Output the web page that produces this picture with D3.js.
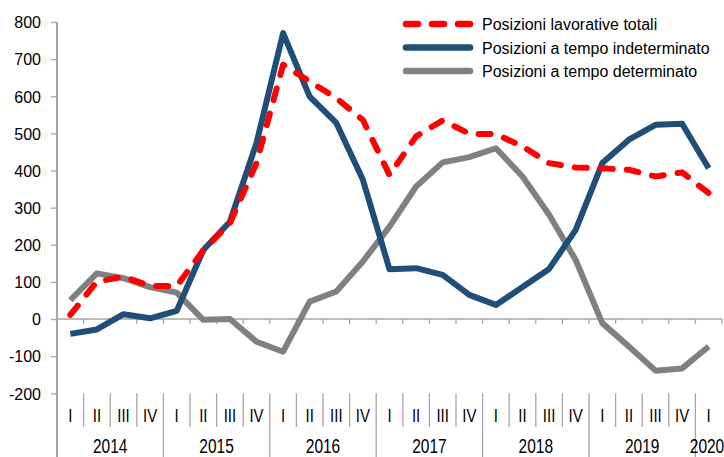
<!DOCTYPE html>
<html>
<head>
<meta charset="utf-8">
<script src="https://cdn.jsdelivr.net/npm/d3@7/dist/d3.min.js"></script>
<style>
  body { margin: 0; background: #fff; }
  svg { display: block; font-family: 'Liberation Sans', Arial, sans-serif; }
</style>
</head>
<body>
<div id="chart"></div>
<script>
// Quarters 2014 I .. 2020 I
const years = ['2014', '2015', '2016', '2017', '2018', '2019', '2020'];
const quarters = ['I', 'II', 'III', 'IV'];
const totali = [11, 101, 114, 89, 89, 185, 258, 420, 685, 640, 595, 536, 388, 492, 535, 499, 498, 465, 420, 408, 406, 402, 384, 395, 339];
const indeterminato = [-40, -28, 13, 2, 22, 186, 262, 474, 770, 599, 528, 375, 134, 137, 119, 65, 38, 86, 135, 240, 420, 483, 523, 526, 406];
const determinato = [51, 123, 110, 86, 71, -2, 0, -61, -88, 47, 74, 155, 249, 357, 422, 436, 460, 384, 281, 159, -11, -74, -139, -133, -74];
const yTicks = [-200, -100, 0, 100, 200, 300, 400, 500, 600, 700, 800];

const series = [
  { name: 'Posizioni lavorative totali', values: totali, color: '#ff0000', dash: '12,14' },
  { name: 'Posizioni a tempo indeterminato', values: indeterminato, color: '#1f4e79', dash: null },
  { name: 'Posizioni a  tempo determinato', values: determinato, color: '#808080', dash: null }
];

// category list
var cats = [];
years.forEach(function(yr) {
  quarters.forEach(function(q) {
    if (cats.length < totali.length) cats.push({ year: yr, q: q, key: yr + q });
  });
});

const width = 724, height = 457;
const left = 57, right = 722;

let svg = d3.select('#chart').append('svg')
  .attr('width', width)
  .attr('height', height);

let x = d3.scaleBand()
  .domain(cats.map(d => d.key))
  .range([left, right]);
let y = d3.scaleLinear()
  .domain([-200, 800])
  .range([393.3, 22]);

// y axis
let yAxis = d3.axisLeft(y)
  .tickValues(yTicks)
  .tickSize(6)
  .tickPadding(10)
  .tickFormat(d => String(d));
let gy = svg.append('g')
  .attr('transform', `translate(${left},0)`)
  .call(yAxis);
gy.select('.domain').remove();
gy.selectAll('line').attr('stroke', '#a6a6a6').attr('stroke-width', 1.3);
gy.selectAll('text')
  .attr('font-size', '16px')
  .attr('fill', '#000')
  .attr('dy', '0.36em')
  .style('font-family', "'Liberation Sans', Arial, sans-serif");
// axis line running down through the category area
svg.append('line')
  .attr('x1', left).attr('x2', left)
  .attr('y1', y(800)).attr('y2', height)
  .attr('stroke', '#a6a6a6').attr('stroke-width', 2);

// x axis at zero
svg.append('line')
  .attr('x1', left).attr('x2', right)
  .attr('y1', y(0)).attr('y2', y(0))
  .attr('stroke', '#a6a6a6').attr('stroke-width', 1.5);
svg.append('g')
  .selectAll('line')
  .data(cats.slice(1).concat([null]))
  .enter()
  .append('line')
  .attr('x1', d => d ? x(d.key) : right)
  .attr('x2', d => d ? x(d.key) : right)
  .attr('y1', y(0))
  .attr('y2', y(0) + 5)
  .attr('stroke', '#a6a6a6').attr('stroke-width', 1.3);

// category separators below plot
svg.append('g')
  .selectAll('line')
  .data(cats.slice(1))
  .enter()
  .append('line')
  .attr('x1', d => x(d.key))
  .attr('x2', d => x(d.key))
  .attr('y1', y(-200))
  .attr('y2', d => d.q == 'I' ? height : 427)
  .attr('stroke', '#a6a6a6').attr('stroke-width', 1.3);

// quarter labels (stretched vertically like the original)
svg.append('g')
  .selectAll('text')
  .data(cats)
  .enter()
  .append('text')
  .attr('transform', d => `translate(${x(d.key) + x.bandwidth() / 2},422) scale(1,1.25)`)
  .attr('text-anchor', 'middle')
  .attr('font-size', '15px')
  .attr('fill', '#000')
  .text(d => d.q);

svg.append('g')
  .selectAll('text')
  .data(years)
  .enter()
  .append('text')
  .attr('transform', function(yr) {
    let c = cats.filter(d => d.year == yr);
    let cx = (x(c[0].key) + x(c[c.length - 1].key) + x.bandwidth()) / 2;
    if (yr == '2020') cx = 707;
    return `translate(${cx},453) scale(1,1.3)`;
  })
  .attr('text-anchor', 'middle')
  .attr('font-size', '15.5px')
  .attr('fill', '#000')
  .text(d => d);

// lines
let line = d3.line()
  .x((d, i) => x(cats[i].key) + x.bandwidth() / 2)
  .y(d => y(d));

let order = [2, 1, 0];
order.forEach(function(k) {
  let s = series[k];
  svg.append('path')
    .datum(s.values)
    .attr('d', line)
    .attr('fill', 'none')
    .attr('stroke', s.color)
    .attr('stroke-width', 6)
    .attr('stroke-linejoin', 'round')
    .attr('stroke-linecap', s.dash ? 'round' : 'butt')
    .attr('stroke-dasharray', s.dash);
});

// legend
let lg = svg.append('g');
series.forEach(function(s, i) {
  let yy = 24 + i * 23.5;
  lg.append('line')
    .attr('x1', 406).attr('x2', 470)
    .attr('y1', yy).attr('y2', yy)
    .attr('stroke', s.color)
    .attr('stroke-width', 6.5)
    .attr('stroke-linecap', 'round')
    .attr('stroke-dasharray', s.dash);
  lg.append('text')
    .attr('x', 482)
    .attr('y', yy + 6)
    .attr('font-size', '16px')
    .attr('fill', '#000')
    .text(s.name);
});
</script>
</body>
</html>
